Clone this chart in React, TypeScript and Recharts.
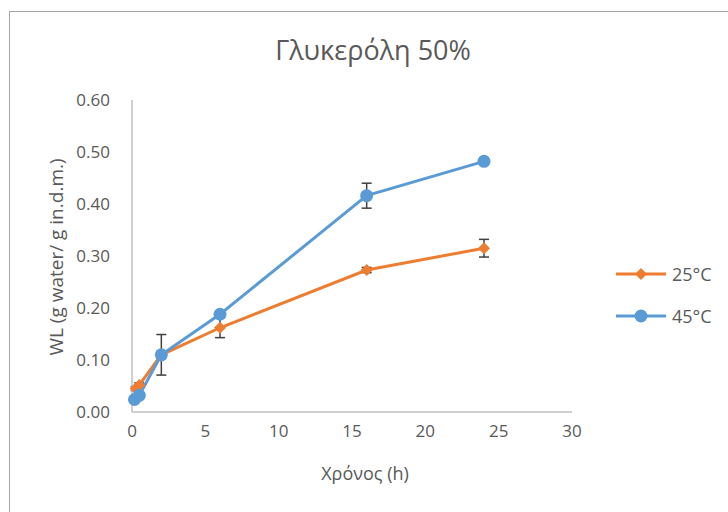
import React from 'react';
import { LineChart, Line, XAxis, YAxis, ErrorBar } from 'recharts';

const title = 'Γλυκερόλη 50%';
const xTitle = 'Χρόνος (h)';
const yTitle = 'WL (g water/ g in.d.m.)';

const xTicks = [0, 5, 10, 15, 20, 25, 30];
const yTicks = [0, 0.1, 0.2, 0.3, 0.4, 0.5, 0.6];

const time25 = [0.25, 0.5, 2, 6, 16, 24];
const wl25 = [0.045, 0.052, 0.11, 0.162, 0.273, 0.315];
const err25 = [0.004, 0.004, 0.006, 0.019, 0.005, 0.017];

const time45 = [0.17, 0.5, 2, 6, 16, 24];
const wl45 = [0.024, 0.032, 0.11, 0.188, 0.416, 0.482];
const err45 = [0.003, 0.003, 0.039, 0.004, 0.024, 0.004];

const series = [
    { name: '25°C', color: '#ED7D31', shape: 'diamond', data: time25.map((t, i) => ({ t, v: wl25[i], e: err25[i] })) },
    { name: '45°C', color: '#5B9BD5', shape: 'circle', data: time45.map((t, i) => ({ t, v: wl45[i], e: err45[i] })) },
];

const font = '"Open Sans", "Noto Sans", sans-serif';
const grey = '#595959';

const Diamond = (props: any) => {
    const { cx, cy, fill } = props;
    if (cx == null || cy == null) return null;
    const r = 6;
    return <polygon points={`${cx},${cy - r} ${cx + r},${cy} ${cx},${cy + r} ${cx - r},${cy}`} fill={fill} />;
};

const Circle = (props: any) => {
    const { cx, cy, fill } = props;
    if (cx == null || cy == null) return null;
    return <circle cx={cx} cy={cy} r={6.5} fill={fill} />;
};

const LegendBox = () => (
    <div style={{ fontFamily: font, fontSize: 18, color: grey }}>
        {series.map((s) => (
            <div key={s.name} style={{ display: 'flex', alignItems: 'center', height: 42 }}>
                <svg width={52} height={16}>
                    <line x1={0} y1={8} x2={50} y2={8} stroke={s.color} strokeWidth={3} />
                    {s.shape === 'circle'
                        ? <circle cx={25} cy={8} r={6.5} fill={s.color} />
                        : <polygon points="25,2 31,8 25,14 19,8" fill={s.color} />}
                </svg>
                <span style={{ marginLeft: 4 }}>{s.name}</span>
            </div>
        ))}
    </div>
);

export default function App() {
    return (
        <div style={{ position: 'absolute', left: 0, top: 0, width: 728, height: 512, overflow: 'hidden', background: '#fff' }}>
            <div style={{ position: 'absolute', left: 9, top: 11, width: 760, height: 560, border: '1px solid #a6a6a6' }} />
            <div style={{ position: 'absolute', left: 0, top: 31, width: 746, textAlign: 'center', fontFamily: font, fontSize: 27, color: grey }}>
                {title}
            </div>
            <div style={{ position: 'absolute', left: 145, top: 461, width: 440, textAlign: 'center', fontFamily: font, fontSize: 18, color: grey }}>
                {xTitle}
            </div>
            <div style={{ position: 'absolute', left: 56, top: 257, width: 0, height: 0 }}>
                <div style={{ position: 'absolute', transform: 'translate(-50%, -50%) rotate(-90deg)', whiteSpace: 'nowrap', fontFamily: font, fontSize: 19, color: grey }}>
                    {yTitle}
                </div>
            </div>
            <div style={{ position: 'absolute', left: 616, top: 253 }}>
                <LegendBox />
            </div>
            <div style={{ position: 'absolute', left: 0, top: 0 }}>
                <LineChart width={728} height={512} margin={{ top: 100, right: 156, bottom: 70, left: 72 }}>
                    <XAxis
                        dataKey="t"
                        type="number"
                        domain={[0, 30]}
                        ticks={xTicks}
                        allowDuplicatedCategory={false}
                        height={30}
                        tickLine={false}
                        axisLine={{ stroke: '#bfbfbf', strokeWidth: 1.5 }}
                        tick={{ fill: grey, fontSize: 17, fontFamily: font }}
                        tickMargin={7}
                    />
                    <YAxis
                        type="number"
                        domain={[0, 0.6]}
                        ticks={yTicks}
                        width={60}
                        tickLine={false}
                        axisLine={{ stroke: '#bfbfbf', strokeWidth: 1.5 }}
                        tick={{ fill: grey, fontSize: 17, fontFamily: font }}
                        tickFormatter={(v: number) => v.toFixed(2)}
                        tickMargin={16}
                    />
                    {series.map((s) => (
                        <Line
                            key={s.name}
                            data={s.data}
                            dataKey="v"
                            name={s.name}
                            stroke={s.color}
                            strokeWidth={3}
                            fill={s.color}
                            dot={s.shape === 'circle' ? <Circle fill={s.color} /> : <Diamond fill={s.color} />}
                            activeDot={false}
                            isAnimationActive={false}
                        >
                            <ErrorBar dataKey="e" direction="y" width={5} stroke="#404040" strokeWidth={1.5} />
                        </Line>
                    ))}
                </LineChart>
            </div>
        </div>
    );
}
